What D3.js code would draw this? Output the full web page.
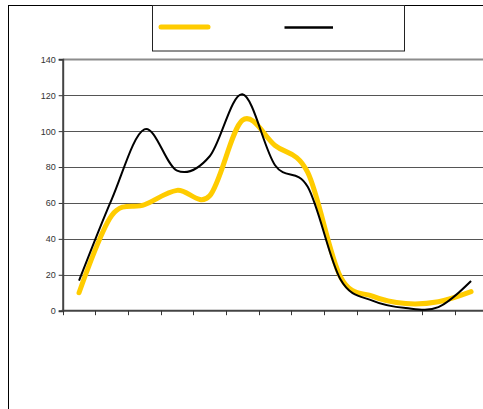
<!DOCTYPE html>
<html>
<head>
<meta charset="utf-8">
<script src="https://cdn.jsdelivr.net/npm/d3@7"></script>
<style>
  html, body { margin: 0; padding: 0; background: #fff; }
  svg { display: block; }
</style>
</head>
<body>
<script>
// Thirteen periods, two series, y axis ticks
const categories = ["1", "2", "3", "4", "5", "6", "7", "8", "9", "10", "11", "12", "13"];
const seriesYellow = [10, 53, 59, 67, 64, 106, 92, 77, 19, 8, 4, 5, 10.6];
const seriesBlack = [16.7, 62, 101, 78, 86, 120.5, 81, 69, 17.5, 5.5, 1.5, 2, 16.5];
const yTicks = [0, 20, 40, 60, 80, 100, 120, 140];

const W = 483, H = 409;
const svg = d3.select("body").append("svg").attr("width", W).attr("height", H);

// chart frame (runs past the right and bottom edges of the window)
svg.append("rect")
  .attr("x", 8.5).attr("y", 5.5).attr("width", 520).attr("height", 450)
  .attr("fill", "#fff").attr("stroke", "#000").attr("stroke-width", 1);

const plot = { left: 62.7, right: 487.4, top: 59.3, bottom: 310.7 };

const x = d3.scaleBand().domain(categories).range([plot.left, plot.right]).padding(0);
const y = d3.scaleLinear().domain([0, 140]).range([plot.bottom, plot.top]);

// horizontal gridlines
svg.append("g").selectAll("line").data(yTicks.filter(d => d > 0)).join("line")
  .attr("x1", plot.left).attr("x2", plot.right + 20)
  .attr("y1", d => Math.round(y(d)) + 0.5).attr("y2", d => Math.round(y(d)) + 0.5)
  .attr("stroke", d => d === 140 ? "#8c8c8c" : "#555")
  .attr("stroke-width", d => d === 140 ? 2 : 1);

// y axis
const yAxis = d3.axisLeft(y).tickValues(yTicks).tickSize(4).tickPadding(3).tickFormat(d3.format("d"));
const gy = svg.append("g").attr("transform", `translate(${plot.left},0)`).call(yAxis);
gy.select(".domain").attr("stroke", "#444").attr("stroke-width", 2);
gy.selectAll(".tick line").attr("stroke", "#333").attr("stroke-width", 1);
gy.selectAll(".tick text")
  .attr("font-family", "Liberation Sans, Arial, sans-serif")
  .attr("font-size", 9).attr("fill", "#333");

// x axis: ticks sit on the category boundaries, no labels
const edges = categories.map(c => x(c)).concat([plot.right]);
const gx = svg.append("g");
gx.append("line")
  .attr("x1", plot.left - 1).attr("x2", plot.right + 20)
  .attr("y1", plot.bottom).attr("y2", plot.bottom)
  .attr("stroke", "#444").attr("stroke-width", 2);
gx.selectAll("line.tick").data(edges).join("line").attr("class", "tick")
  .attr("x1", d => Math.round(d) + 0.5).attr("x2", d => Math.round(d) + 0.5)
  .attr("y1", plot.bottom).attr("y2", plot.bottom + 4.5)
  .attr("stroke", "#333").attr("stroke-width", 1);

// smoothed series lines
const line = d3.line()
  .x((d, i) => x(categories[i]) + x.bandwidth() / 2)
  .y(d => y(d))
  .curve(d3.curveCardinal.tension(0));

svg.append("path").datum(seriesYellow)
  .attr("d", line).attr("fill", "none")
  .attr("stroke", "#FFCC00").attr("stroke-width", 5)
  .attr("stroke-linecap", "round").attr("stroke-linejoin", "round");

svg.append("path").datum(seriesBlack)
  .attr("d", line).attr("fill", "none")
  .attr("stroke", "#000").attr("stroke-width", 2)
  .attr("stroke-linejoin", "round");

// legend
const lg = svg.append("g");
lg.append("rect")
  .attr("x", 152.5).attr("y", 5.5).attr("width", 252).attr("height", 45.5)
  .attr("fill", "#fff").attr("stroke", "#222").attr("stroke-width", 1);
lg.append("line")
  .attr("x1", 161).attr("x2", 208).attr("y1", 27).attr("y2", 27)
  .attr("stroke", "#FFCC00").attr("stroke-width", 5).attr("stroke-linecap", "round");
lg.append("line")
  .attr("x1", 284.5).attr("x2", 333).attr("y1", 27.5).attr("y2", 27.5)
  .attr("stroke", "#000").attr("stroke-width", 2.5);
</script>
</body>
</html>
